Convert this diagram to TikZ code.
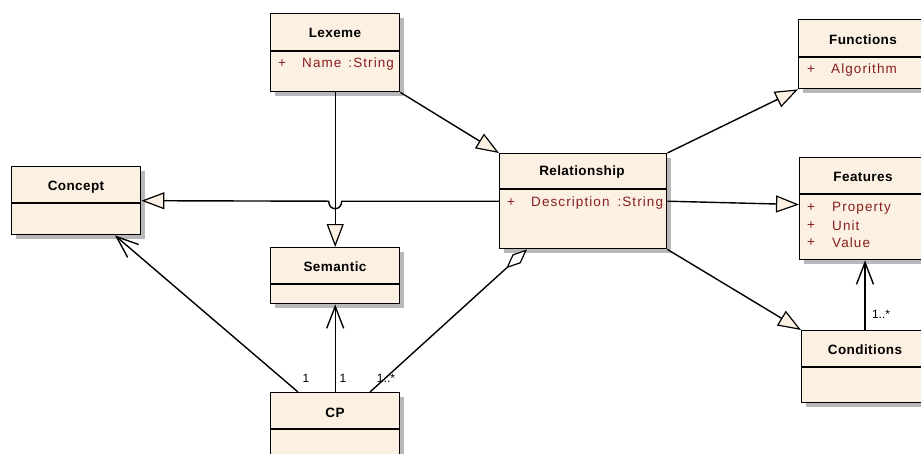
\documentclass[tikz,border=0pt]{standalone}
\usepackage{fontspec}
\setmainfont{Liberation Sans}
\usetikzlibrary{arrows.meta,shadows,calc}
\definecolor{boxfill}{RGB}{251,240,225}
\definecolor{attrc}{RGB}{135,30,30}
\begin{document}
\begin{tikzpicture}[x=1pt,y=-1pt,
  cls/.style={draw, line width=1.4pt, fill=boxfill, anchor=north west, inner sep=0pt,
    drop shadow={shadow xshift=4pt, shadow yshift=-4pt, fill=black!28, opacity=1}},
  sepline/.style={line width=1.3pt},
  hdr/.style={font=\fontsize{13.5}{15}\selectfont\bfseries\addfontfeatures{LetterSpace=3}},
  att/.style={anchor=west, inner sep=0pt, text=attrc, font=\fontsize{13.5}{15}\selectfont\addfontfeatures{LetterSpace=8}},
  lbl/.style={inner sep=0pt, font=\fontsize{12}{14}\selectfont},
  conn/.style={line width=1.4pt},
  gen/.style={conn, -{Triangle[length=23pt,width=17pt,fill=boxfill,line width=1.2pt]}},
  nav/.style={conn, -{Straight Barb[length=22pt,width=17pt,line width=1.4pt]}},
  agg/.style={conn, {Diamond[length=28pt,width=12pt,fill=white,line width=1.2pt]}-}
]
\clip (0,0) rectangle (921,453);
\fill[white] (0,0) rectangle (921,453);

% classes
\node[cls, minimum width=129pt, minimum height=78pt] (lex) at (270,13) {};
\draw[sepline] (270,51) -- (399,51);
\node[hdr] (lexh) at (335,33) {Lexeme};
\node[att] (lexp) at (278,64) {+};
\node[att] (lexa) at (302,64) {Name\hspace{7pt}:String};

\node[cls, minimum width=129pt, minimum height=68pt] (con) at (11,166) {};
\draw[sepline] (11,203) -- (140,203);
\node[hdr] (conh) at (76,187) {Concept};

\node[cls, minimum width=129pt, minimum height=56pt] (sem) at (270,247) {};
\draw[sepline] (270,284) -- (399,284);
\node[hdr] (semh) at (335,267) {Semantic};

\node[cls, minimum width=129pt, minimum height=90pt] (cp) at (270,392) {};
\draw[sepline] (270,429) -- (399,429);
\node[hdr] (cph) at (335,413) {CP};

\node[cls, minimum width=167pt, minimum height=95pt] (rel) at (499,153) {};
\draw[sepline] (499,189) -- (666,189);
\node[hdr] (relh) at (582,172) {Relationship};
\node[att] (relp) at (507,203) {+};
\node[att] (rela) at (531,203) {Description\hspace{8pt}:String};

\node[cls, minimum width=140pt, minimum height=69pt] (fun) at (798,19) {};
\draw[sepline] (798,57) -- (938,57);
\node[hdr] (funh) at (863,40) {Functions};
\node[att] (funp) at (807,70) {+};
\node[att] (funa) at (831,70) {Algorithm};

\node[cls, minimum width=140pt, minimum height=102pt] (feat) at (799,157) {};
\draw[sepline] (799,194) -- (939,194);
\node[hdr] (feath) at (863,177) {Features};
\node[att] (featp1) at (807,208) {+};
\node[att] (feata1) at (832,208) {Property};
\node[att] (featp2) at (807,226) {+};
\node[att] (feata2) at (832,226) {Unit};
\node[att] (featp3) at (807,243) {+};
\node[att] (feata3) at (832,243) {Value};

\node[cls, minimum width=140pt, minimum height=72pt] (cond) at (801,330) {};
\draw[sepline] (801,367) -- (941,367);
\node[hdr] (condh) at (865,350) {Conditions};

% helper coordinates
\coordinate (jr) at ($(lex.south |- rel.west)+(6.5,0)$);
\coordinate (jl) at ($(lex.south |- rel.west)+(-6.5,0)$);
\coordinate (featin) at ($(feat.north west)!0.46!(feat.south west)$);
\coordinate (featbot) at ($(feat.south west)+(66,0)$);
\coordinate (condtop) at ($(cond.north west)+(64,0)$);
\coordinate (conbot) at ($(con.south west)+(104,0)$);
\coordinate (cpl) at ($(cp.north west)+(28,0)$);
\coordinate (cpr) at ($(cp.north west)+(100,0)$);
\coordinate (relbot) at ($(rel.south west)+(28,0)$);

% connectors
\draw[gen] (lex.south) -- (sem.north);
\draw[gen] (lex.south east) -- (rel.north west);
\draw[gen] (rel.west) -- (jr) .. controls ($(jr)+(0,10)$) and ($(jl)+(0,10)$) .. (jl) -- (con.east);
\draw[gen] (rel.north east) -- (fun.south west);
\draw[gen] (rel.east) -- (featin);
\draw[gen] (rel.south east) -- (cond.north west);
\draw[nav] (condtop) -- (featbot);
\draw[nav] (cp.north) -- (sem.south);
\draw[nav] (cpl) -- (conbot);
\draw[agg] (relbot) -- (cpr);

% multiplicities
\node[lbl] (m1) at (306,378) {1};
\node[lbl] (m2) at (343,378) {1};
\node[lbl] (m3) at (386,378) {1..*};
\node[lbl] (m4) at (881,314) {1..*};
\end{tikzpicture}
\end{document}
